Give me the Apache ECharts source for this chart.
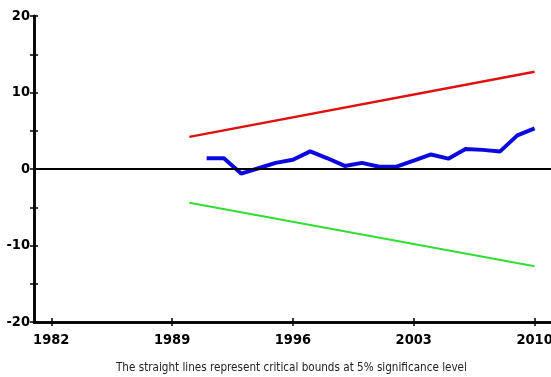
<!DOCTYPE html>
<html><head><meta charset="utf-8">
<script src="https://cdn.jsdelivr.net/npm/echarts@6/dist/echarts.min.js"></script>
<style>html,body{margin:0;padding:0;background:#fff}#c{width:551px;height:377px}</style>
</head><body><div id="c"></div>
<script>
const years = [1991,1992,1993,1994,1995,1996,1997,1998,1999,2000,2001,2002,2003,2004,2005,2006,2007,2008,2009,2010];
const cusum = [1.4,1.4,-0.6,0.1,0.8,1.2,2.3,1.4,0.4,0.8,0.3,0.3,1.1,1.9,1.35,2.6,2.5,2.3,4.4,5.3];
const boundYears = [1990, 2010];
const upperBound = [4.2, 12.7];
const lowerBound = [-4.4, -12.7];
const xTicks = [1982, 1989, 1996, 2003, 2010];
const caption = 'The straight lines represent critical bounds at 5% significance level';

const font = "'DejaVu Sans Condensed','Liberation Sans Narrow',sans-serif";
const chart = echarts.init(document.getElementById('c'));
const axX = (inside, show) => ({
  type: 'value', min: 1981, max: 2010.95, position: 'bottom',
  axisLine: {show: true, onZero: false, lineStyle: {color: '#000', width: 2.5}},
  axisTick: {show: true, inside: inside, length: 4, customValues: xTicks, lineStyle: {color: '#000', width: 1.5}},
  axisLabel: {show: show, customValues: xTicks, color: '#000', fontFamily: font, fontWeight: 'bold', fontSize: 14.5, margin: 11,
    formatter: v => String(v)},
  splitLine: {show: false}
});
const axY = (inside, show) => ({
  type: 'value', min: -20, max: 20, interval: 5, position: 'left',
  axisLine: {show: true, onZero: false, lineStyle: {color: '#000', width: 2.5}},
  axisTick: {show: true, inside: inside, length: 4, lineStyle: {color: '#000', width: 1.5}},
  axisLabel: {show: show, color: '#000', fontFamily: font, fontWeight: 'bold', fontSize: 14.5, margin: 4,
    formatter: v => (v % 10 === 0 ? String(v) : '')},
  splitLine: {show: false}
});
chart.setOption({
  animation: false,
  grid: {left: 34, right: 0, top: 16, bottom: 55, containLabel: false, outerBoundsMode: 'none'},
  xAxis: [axX(false, true), axX(true, false)],
  yAxis: [axY(false, true), axY(true, false)],
  graphic: [{type: 'text', left: 116, top: 362, style: {text: caption, fill: '#222', font: '11.6px ' + font}}],
  series: [
    {type: 'line', data: boundYears.map((y, i) => [y, upperBound[i]]), symbol: 'none',
      lineStyle: {color: '#e01010', width: 2.5},
      markLine: {silent: true, symbol: 'none', label: {show: false}, data: [{yAxis: 0}],
        lineStyle: {color: '#000', width: 2, type: 'solid'}}},
    {type: 'line', data: boundYears.map((y, i) => [y, lowerBound[i]]), symbol: 'none',
      lineStyle: {color: '#33dd33', width: 2}},
    {type: 'line', data: years.map((y, i) => [y, cusum[i]]), symbol: 'none',
      lineStyle: {color: '#0a0ae0', width: 4}}
  ]
});
</script></body></html>
